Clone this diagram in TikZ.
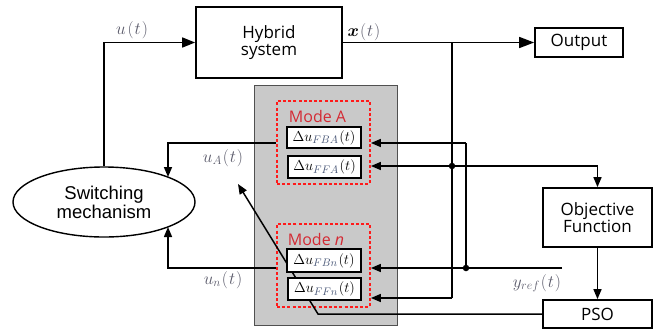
\documentclass[tikz,border=0pt]{standalone}
\usepackage{fontspec}
\usepackage{amsmath}
\usetikzlibrary{arrows.meta,shapes.geometric}
\newfontfamily\blockfont{Open Sans}
\newfontfamily\ellfont{Liberation Sans}
\definecolor{panelgray}{HTML}{C9C9C9}
\definecolor{paneledge}{HTML}{505050}
\definecolor{modered}{HTML}{FF1A1A}
\definecolor{modetext}{HTML}{D42A34}
\definecolor{sig}{HTML}{5A5A6A}
\definecolor{subc}{HTML}{4A5878}
\newcommand{\gain}[1]{$\Delta u_{\textcolor{subc}{#1}}\mkern1mu(t)$}

\begin{document}
\begin{tikzpicture}[x=1pt,y=-1pt,
  block/.style={draw,line width=1.7pt,fill=white,inner sep=0pt,align=center,
    font=\blockfont\fontsize{17}{20}\selectfont},
  wire/.style={line width=1.5pt},
  arr/.style={wire,-{Triangle[length=10pt,width=8pt]}},
  bigarr/.style={wire,-{Triangle[length=15pt,width=11pt]}},
  modebox/.style={draw=modered,line width=1.8pt,dash pattern=on 3pt off 2.2pt,
    inner sep=0pt},
  modelabel/.style={text=modetext,font=\blockfont\fontsize{16}{18}\selectfont},
  gainbox/.style={draw,line width=1.1pt,fill=white,inner sep=0pt,
    font=\fontsize{15.5}{17}\selectfont},
  siglabel/.style={text=sig,font=\fontsize{16.5}{18}\selectfont},
  junction/.style={circle,fill,inner sep=0pt,minimum size=6.5pt}]

\useasboundingbox (0,0) rectangle (655,333);

% controller panel and the two mode groups
\node[draw=paneledge,fill=panelgray,line width=1pt,inner sep=0pt,
  minimum width=143pt,minimum height=240pt] (panel) at (325.5,205) {};
\node[modebox,minimum width=93pt,minimum height=83pt] (modeA) at (323.5,142.5) {};
\node[modebox,minimum width=93pt,minimum height=83pt] (modeN) at (323.5,265.5) {};
\node[modelabel] (modeAlbl) at (317.5,116) {Mode A};
\node[modelabel] (modeNlbl) at (316,239) {Mode \textit{n}};

% main blocks
\node[block,minimum width=146pt,minimum height=71pt] (hybrid) at (269,42.5) {Hybrid\\[-3pt]system};
\node[block,minimum width=88pt,minimum height=29pt] (output) at (579,42.5) {Output};
\node[block,minimum width=109pt,minimum height=59pt] (obj) at (597.5,217.5) {Objective\\[-3pt]Function};
\node[block,minimum width=109pt,minimum height=28pt] (pso) at (597.5,314) {PSO};
\node[draw,ellipse,line width=1.4pt,fill=white,inner sep=0pt,align=center,
  minimum width=182pt,minimum height=70pt,
  font=\ellfont\fontsize{18.5}{21}\selectfont] (switch) at (104,202) {Switching\\[-2pt]mechanism};

% routing points
\coordinate (xtap) at (452,42.5);
\coordinate (ffaJoin) at (452,166);
\coordinate (ffnTurn) at (452,298);
\coordinate (objTurn) at (597.5,166);
\coordinate (yref) at (562,268);
\coordinate (ytap) at (466,268);
\coordinate (fbaTurn) at (466,143);
\coordinate (psoBend) at (318,314);
\coordinate (pointer) at (238,184);
\coordinate (uAend) at (168,177);
\coordinate (uNend) at (168,227);

% PSO tuning line (passes behind the gain boxes)
\draw[arr] (pso.west) -- (psoBend) -- (pointer);

% gain boxes
\node[gainbox,minimum width=74pt,minimum height=21pt] (fba) at (324,137.5) {\gain{FBA}};
\node[gainbox,minimum width=73pt,minimum height=22pt] (ffa) at (324.5,167) {\gain{FFA}};
\node[gainbox,minimum width=74pt,minimum height=23pt] (fbn) at (324,260.5) {\gain{FBn}};
\node[gainbox,minimum width=73pt,minimum height=22pt] (ffn) at (324.5,289) {\gain{FFn}};

% plant loop
\draw[bigarr] (hybrid.east) -- (output.west);
\draw[arr,-{Triangle[length=13pt,width=10pt]}] (switch.north) |- (hybrid.west);

% state feedback into the modes and the objective
\draw[wire] (xtap) -- (ffnTurn);
\draw[arr] (ffnTurn) -- (modeN.east |- ffnTurn);
\draw[arr] (objTurn) -- (modeA.east |- objTurn);
\draw[arr] (objTurn) -- (obj.north);
\node[junction] (ffaDot) at (ffaJoin) {};

% reference signal
\draw[arr] (yref) -- (modeN.east |- yref);
\draw[wire] (ytap) -- (fbaTurn);
\draw[arr] (fbaTurn) -- (modeA.east |- fbaTurn);
\node[junction] (ytapDot) at (ytap) {};

\draw[arr] (obj.south) -- (pso.north);

% mode outputs to the switching mechanism
\draw[arr] (modeA.west |- fbaTurn) -| (uAend);
\draw[arr] (modeN.west |- yref) -| (uNend);

% signal labels
\node[siglabel] (lu) at (132,30) {$u\mkern2mu(\mkern1mu t\mkern1mu)$};
\node[siglabel] (lx) at (364,32) {$\textcolor{black}{\boldsymbol{x}}\mkern1mu(\mkern1mu t\mkern1mu)$};
\node[siglabel] (luA) at (223,158) {$u_A\mkern1mu(\mkern1mu t\mkern1mu)$};
\node[siglabel] (luN) at (223,280) {$u_n\mkern1mu(\mkern1mu t\mkern1mu)$};
\node[siglabel] (lyref) at (537,283) {$y_{ref}\mkern1mu(\mkern1mu t\mkern1mu)$};
\end{tikzpicture}
\end{document}
